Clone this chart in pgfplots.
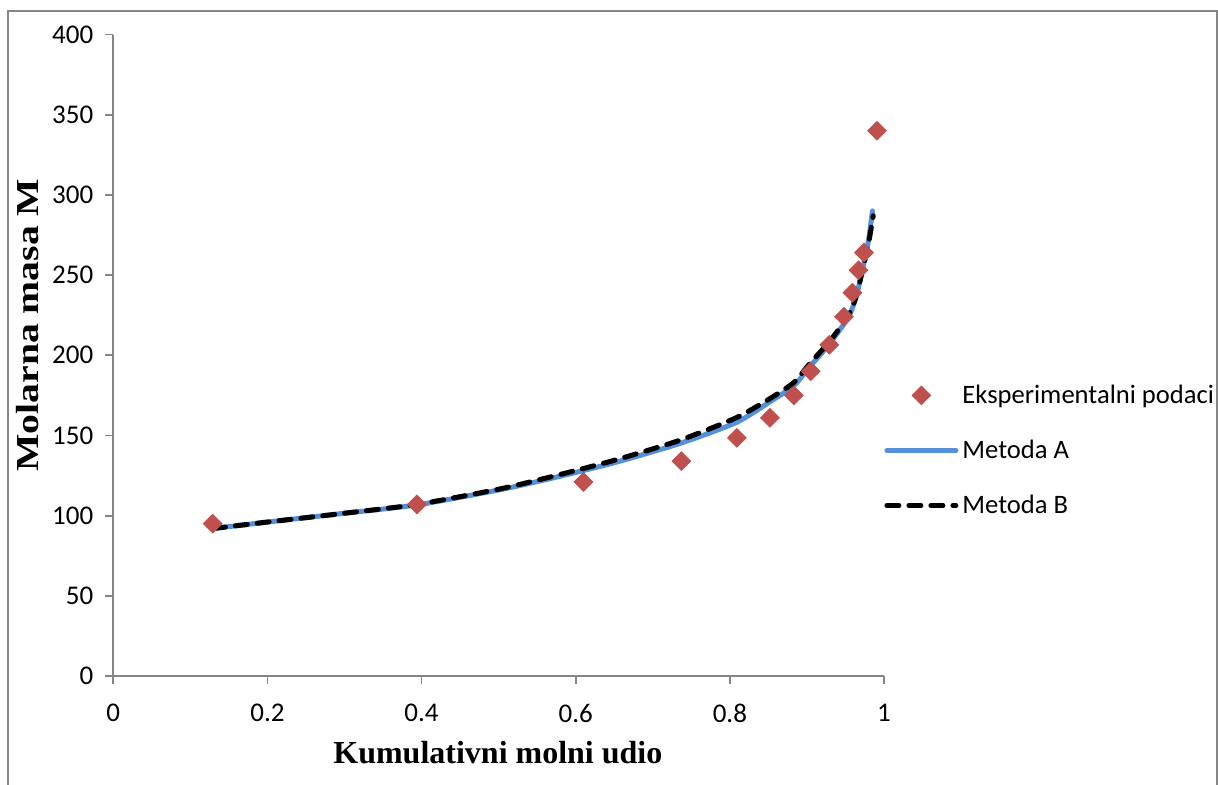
\documentclass[border=0pt]{standalone}
\usepackage{graphicx}
\usepackage{fontspec}
\setmainfont{Carlito}
\newfontfamily\tnr{Liberation Serif}
\usepackage{pgfplots}
\pgfplotsset{compat=1.18}
\definecolor{expred}{HTML}{C0504D}
\definecolor{metA}{HTML}{5590DA}
\definecolor{axgray}{HTML}{868686}
\begin{document}
\begin{tikzpicture}[x=1pt,y=1pt]
\useasboundingbox (-56.65,-54) rectangle (552.35,338);
\draw[axgray, line width=0.9pt] (-52.65,332.5) rectangle (551.7,-70);
\begin{axis}[
  at={(0,0)}, anchor=south west,
  scale only axis, width=385.35pt, height=320.75pt,
  xmin=0, xmax=1, ymin=0, ymax=400,
  axis lines*=left,
  axis line style={axgray, line width=0.9pt},
  xtick={0,0.2,0.4,0.6,0.8,1},
  xticklabels={0,0.2,0.4,0.6,0.8,1},
  ytick={0,50,100,150,200,250,300,350,400},
  yticklabels={0,50,100,150,200,250,300,350,400},
  tick align=outside, major tick length=4pt,
  tick style={axgray, line width=0.9pt},
  ticklabel style={font=\fontsize{13.5}{15}\selectfont, text=black},
  xticklabel style={yshift=-6.5pt},
  yticklabel style={xshift=-2.5pt},
  xlabel={\tnr\bfseries Kumulativni molni udio},
  xlabel style={at={(axis description cs:0.499,-0.12)}, anchor=center, font=\fontsize{16}{19}\selectfont},
  ylabel={\tnr\bfseries\scalebox{1.24}[1]{Molarna masa M}},
  ylabel style={at={(axis description cs:-0.111,0.547)}, anchor=center, font=\fontsize{16}{19}\selectfont},
  clip=false,
  legend style={at={(axis description cs:1.0,0.461)}, anchor=north west, draw=none, fill=none,
    font=\fontsize{13.3}{15}\selectfont, row sep=12.8pt, inner sep=0pt, nodes={inner sep=2pt}},
  legend cell align=left,
  legend image code/.code={\draw[mark repeat=2,mark phase=2,#1] plot coordinates {(0pt,0pt) (17.25pt,0pt) (34.5pt,0pt)};},
]
\addplot[only marks, mark=square*, mark size=3.3pt, mark options={rotate=45, fill=expred, draw=expred}] coordinates {
(0.129,95) (0.394,107) (0.610,121) (0.737,134) (0.809,148.5) (0.852,161) (0.883,175)
(0.905,190) (0.929,206.5) (0.948,224) (0.959,239) (0.967,253) (0.974,264) (0.991,340)
};
\addlegendentry{Eksperimentalni podaci}
\addplot[metA, line width=2.5pt, line cap=round, smooth, tension=0.4] coordinates {
(0.13,92) (0.2,96) (0.3,101.5) (0.394,106.7) (0.5,116) (0.566,123) (0.65,133) (0.735,145)
(0.808,158) (0.852,171) (0.883,181) (0.904,193) (0.930,207.6) (0.954,224) (0.964,236.7)
(0.973,255.4) (0.980,272) (0.985,290)
};
\addlegendentry{Metoda A}
\addplot[black, line width=2.5pt, line cap=round, dash pattern=on 6pt off 5pt, smooth, tension=0.4] coordinates {
(0.13,92) (0.2,96) (0.3,101.5) (0.394,107) (0.5,116.5) (0.566,124) (0.65,134.5) (0.735,147)
(0.808,161) (0.852,173) (0.883,183) (0.904,195) (0.930,209) (0.954,225) (0.964,237)
(0.973,255) (0.980,270) (0.986,287)
};
\addlegendentry{Metoda B}
\end{axis}
\end{tikzpicture}
\end{document}
